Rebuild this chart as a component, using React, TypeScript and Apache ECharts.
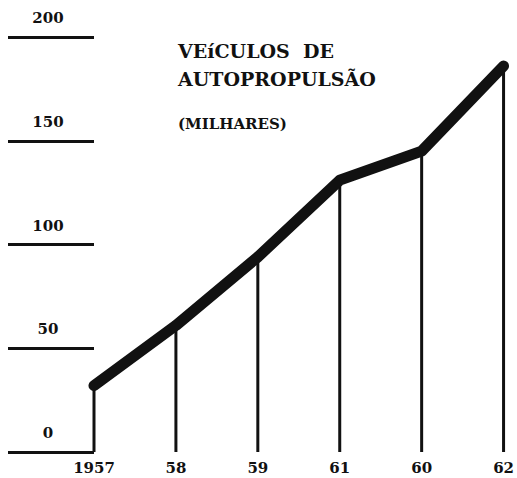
import React, { useEffect, useRef } from "react";
import * as echarts from "echarts";

const categories = ["1957", "58", "59", "61", "60", "62"];
const values = [32, 61, 94, 131, 145, 186];
const yTicks = [0, 50, 100, 150, 200];
const titleLines = ["VEíCULOS  DE", "AUTOPROPULSÃO"];
const subtitle = "(MILHARES)";

const FONT = "'DejaVu Serif', 'Liberation Serif', serif";

export default function App() {
  const ref = useRef<HTMLDivElement>(null);
  useEffect(() => {
    document.body.style.margin = "0";
    document.body.style.overflow = "hidden";
    if (!ref.current) return;
    const chart = echarts.init(ref.current, null, { renderer: "svg" });
    chart.setOption({
      animation: false,
      backgroundColor: "#ffffff",
      title: [
        {
          text: titleLines.join("\n"),
          left: 178,
          top: 37,
          padding: 0,
          textStyle: {
            fontFamily: FONT,
            fontSize: 19,
            fontWeight: "bold",
            color: "#111",
            lineHeight: 28,
          },
        },
        {
          text: subtitle,
          left: 178,
          top: 116,
          padding: 0,
          textStyle: {
            fontFamily: FONT,
            fontSize: 15,
            fontWeight: "bold",
            color: "#111",
            lineHeight: 15,
          },
        },
      ],
      grid: { left: 94, right: 12, top: 37, bottom: 26, containLabel: false },
      xAxis: {
        type: "category",
        data: categories,
        boundaryGap: false,
        axisLine: { show: false },
        axisTick: { show: false },
        splitLine: { show: false },
        axisLabel: {
          interval: 0,
          margin: 8,
          fontFamily: FONT,
          fontSize: 15,
          fontWeight: "bold",
          color: "#111",
        },
      },
      yAxis: {
        type: "value",
        min: 0,
        max: 200,
        interval: 50,
        axisLine: { show: false },
        splitLine: { show: false },
        axisTick: {
          show: true,
          length: 86,
          lineStyle: { color: "#111", width: 3 },
        },
        axisLabel: {
          margin: 46,
          align: "center",
          formatter: (v: number) => (yTicks.includes(v) ? `{a|${v}}` : ""),
          rich: {
            a: {
              fontFamily: FONT,
              fontSize: 15,
              fontWeight: "bold",
              color: "#111",
              padding: [0, 0, 38, 0],
            },
          },
        },
      },
      series: [
        {
          type: "bar",
          data: values,
          barWidth: 3,
          clip: false,
          itemStyle: { color: "#111" },
          silent: true,
        },
        {
          type: "line",
          data: values,
          symbol: "none",
          clip: false,
          lineStyle: { color: "#111", width: 11, cap: "round", join: "round" },
          z: 5,
        },
      ],
    });
    return () => chart.dispose();
  }, []);
  return (
    <div
      ref={ref}
      style={{ position: "absolute", left: 0, top: 0, width: 517, height: 478 }}
    />
  );
}
